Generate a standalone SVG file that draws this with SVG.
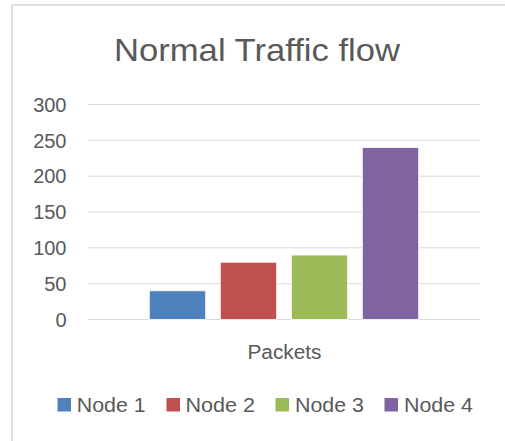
<svg xmlns="http://www.w3.org/2000/svg" width="505" height="441" viewBox="0 0 505 441">
<style>
text{font-family:"Liberation Sans",Arial,sans-serif;fill:#595959}
.grid{stroke:#d9d9d9;stroke-width:1}
.ylab{font-size:20px;text-anchor:end}
.bar{stroke:#ffffff;stroke-width:0.8}
.leg{font-size:20px}
</style>
<rect x="0" y="0" width="505" height="441" fill="#ffffff"/>
<rect id="frame" x="12" y="5" width="500" height="445" fill="#ffffff" stroke="#d9d9d9" stroke-width="1.6"/>
<g id="title"><text x="257" y="61" font-size="32" text-anchor="middle" textLength="286" lengthAdjust="spacingAndGlyphs">Normal Traffic flow</text></g>
<g id="gridlines">
<line class="grid" x1="88" y1="104.5" x2="480" y2="104.5"/>
<line class="grid" x1="88" y1="140.3" x2="480" y2="140.3"/>
<line class="grid" x1="88" y1="176.2" x2="480" y2="176.2"/>
<line class="grid" x1="88" y1="212" x2="480" y2="212"/>
<line class="grid" x1="88" y1="247.8" x2="480" y2="247.8"/>
<line class="grid" x1="88" y1="283.7" x2="480" y2="283.7"/>
<line class="grid" x1="88" y1="319.5" x2="480" y2="319.5"/>
</g>
<g id="yaxis">
<text class="ylab" x="66.5" y="111.7">300</text>
<text class="ylab" x="66.5" y="147.5">250</text>
<text class="ylab" x="66.5" y="183.4">200</text>
<text class="ylab" x="66.5" y="219.2">150</text>
<text class="ylab" x="66.5" y="255">100</text>
<text class="ylab" x="66.5" y="290.9">50</text>
<text class="ylab" x="66.5" y="326.7">0</text>
</g>
<g id="bar-node1"><rect class="bar" x="149.3" y="290.8" width="56.4" height="28.7" fill="#4f81bd"/></g>
<g id="bar-node2"><rect class="bar" x="220.3" y="262.2" width="56.4" height="57.3" fill="#c0504d"/></g>
<g id="bar-node3"><rect class="bar" x="291.3" y="255" width="56.4" height="64.5" fill="#9bbb59"/></g>
<g id="bar-node4"><rect class="bar" x="362.3" y="147.5" width="56.4" height="172" fill="#8064a2"/></g>
<g id="xlabel"><text x="284.5" y="359" font-size="20" text-anchor="middle" textLength="74" lengthAdjust="spacingAndGlyphs">Packets</text></g>
<g id="legend-node1"><rect x="57.5" y="398" width="13.5" height="13.5" fill="#4f81bd"/><text class="leg" x="76.7" y="411.7" textLength="69" lengthAdjust="spacingAndGlyphs">Node 1</text></g>
<g id="legend-node2"><rect x="166.5" y="398" width="13.5" height="13.5" fill="#c0504d"/><text class="leg" x="185.5" y="411.7" textLength="69.5" lengthAdjust="spacingAndGlyphs">Node 2</text></g>
<g id="legend-node3"><rect x="275.5" y="398" width="13.5" height="13.5" fill="#9bbb59"/><text class="leg" x="295" y="411.7" textLength="69" lengthAdjust="spacingAndGlyphs">Node 3</text></g>
<g id="legend-node4"><rect x="384.5" y="398" width="13.5" height="13.5" fill="#8064a2"/><text class="leg" x="404" y="411.7" textLength="69" lengthAdjust="spacingAndGlyphs">Node 4</text></g>
</svg>
